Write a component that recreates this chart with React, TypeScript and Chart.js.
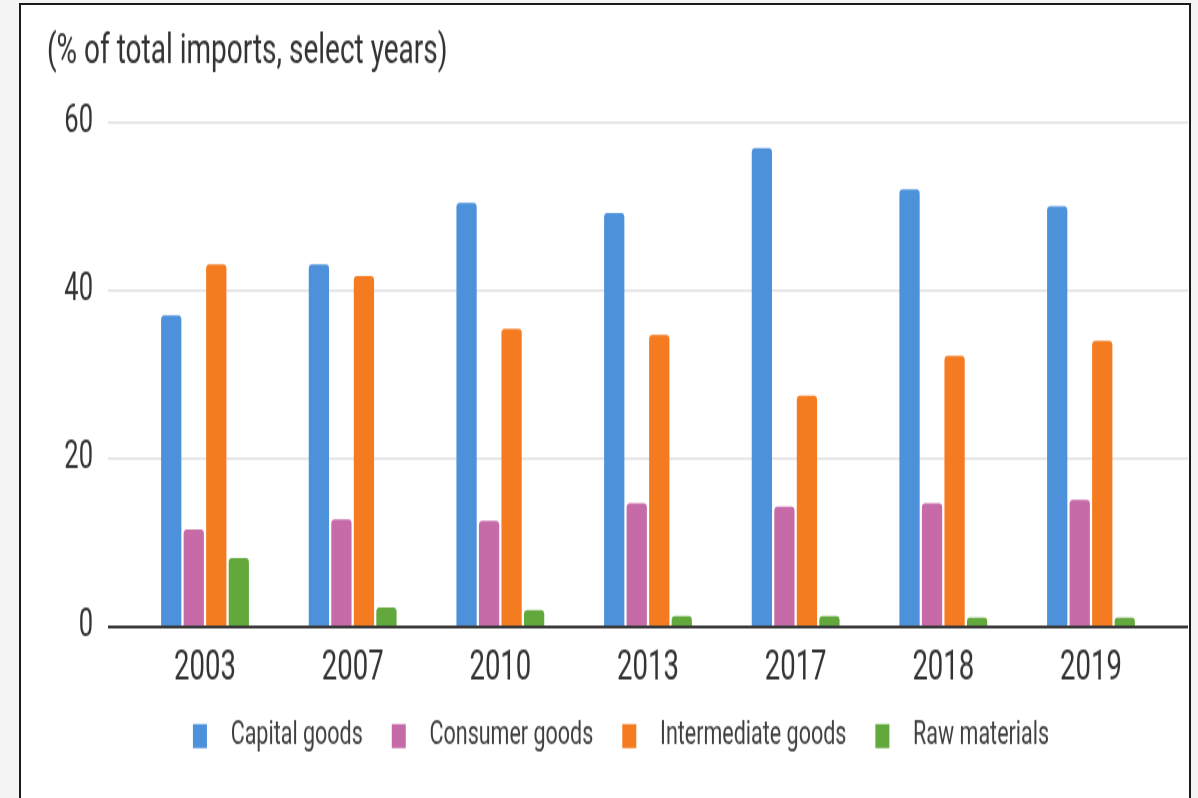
import React, { useEffect, useRef } from "react";
import { Chart, registerables } from "chart.js";

Chart.register(...registerables);

const years = ["2003", "2007", "2010", "2013", "2017", "2018", "2019"];
const seriesNames = ["Capital goods", "Consumer goods", "Intermediate goods", "Raw materials"];
const capitalGoods = [37.0, 43.1, 50.4, 49.2, 56.9, 52.0, 50.0];
const consumerGoods = [11.6, 12.8, 12.6, 14.7, 14.3, 14.7, 15.1];
const intermediateGoods = [43.1, 41.7, 35.4, 34.7, 27.5, 32.2, 34.0];
const rawMaterials = [8.2, 2.3, 2.0, 1.3, 1.3, 1.1, 1.1];
const yTicks = [0, 20, 40, 60];
const titleText = "(% of total imports, select years)";

const colors = ["#4c91da", "#c66aa8", "#f47b20", "#62a83d"];

// canvas is drawn at a reduced internal height and stretched vertically
const W = 1198;
const H_DISPLAY = 798;
const STRETCH = 1.5;
const H = Math.round(H_DISPLAY / STRETCH);
const LEGEND_LIFT = 9.3;
const LEGEND_SHIFT_X = -3;

const legendNudge = {
  id: "legendNudge",
  afterUpdate(chart: any) {
    const lg = chart.legend;
    if (!lg) return;
    lg.top -= LEGEND_LIFT;
    lg.bottom -= LEGEND_LIFT;
    lg.left += LEGEND_SHIFT_X;
    lg.right += LEGEND_SHIFT_X;
    if (lg.legendHitBoxes) {
      lg.legendHitBoxes.forEach((h: any) => {
        h.top -= LEGEND_LIFT;
        h.left += LEGEND_SHIFT_X;
      });
    }
  },
};

export default function App() {
  const ref = useRef<HTMLCanvasElement | null>(null);

  useEffect(() => {
    if (!ref.current) return;
    Chart.defaults.font.family = "Roboto";
    const allSeries = [capitalGoods, consumerGoods, intermediateGoods, rawMaterials];
    const chart = new Chart(ref.current, {
      type: "bar",
      data: {
        datasets: allSeries.map((vals, si) => ({
          label: seriesNames[si],
          data: vals.map((v, i) => ({ x: i, y: v })),
          backgroundColor: colors[si],
          borderWidth: 0,
          borderRadius: 3,
          categoryPercentage: 0.61,
          barPercentage: 0.9,
        })),
      },
      plugins: [legendNudge],
      options: {
        responsive: false,
        animation: false,
        devicePixelRatio: 1,
        layout: { padding: { left: 47, right: 10, top: 0, bottom: 1 } },
        plugins: {
          tooltip: { enabled: false },
          title: {
            display: true,
            text: titleText,
            align: "start",
            color: "#333",
            font: { size: 28, weight: "normal" },
            padding: { top: 18.3, bottom: 29.4 },
          },
          legend: {
            position: "bottom",
            labels: {
              color: "#3f3f3f",
              font: { size: 21.5 },
              boxWidth: 40,
              boxHeight: 42,
              padding: 16,
              generateLabels: (c: any) => {
                const items = Chart.defaults.plugins.legend.labels.generateLabels(c);
                return items.map((it: any) => ({
                  ...it,
                  strokeStyle: "#ffffff",
                  lineWidth: 26,
                  borderRadius: 0,
                }));
              },
            },
          },
        },
        scales: {
          x: {
            type: "linear",
            min: -0.657,
            max: 6.657,
            offset: false,
            grid: { display: false, drawTicks: false },
            border: { display: false },
            afterBuildTicks: (scale: any) => {
              scale.ticks = years.map((_, i) => ({ value: i }));
            },
            afterFit: (scale: any) => {
              scale.height = 45;
            },
            ticks: {
              autoSkip: false,
              maxRotation: 0,
              padding: 12,
              color: "#333",
              font: { size: 27.5 },
              callback: (v: any) => years[v as number] ?? "",
            },
          },
          y: {
            min: 0,
            max: 60,
            afterBuildTicks: (scale: any) => {
              scale.ticks = yTicks.map((v) => ({ value: v }));
            },
            afterFit: (scale: any) => {
              scale.width = 61;
            },
            grid: {
              drawTicks: false,
              lineWidth: (ctx: any) => (ctx.tick && ctx.tick.value === 0 ? 2 : 1.6),
              color: (ctx: any) => (ctx.tick && ctx.tick.value === 0 ? "#3a3a3a" : "#e2e2e2"),
            },
            border: { display: false },
            ticks: {
              padding: 15,
              color: "#333",
              font: { size: 25.5 },
            },
          },
        },
      } as any,
    });
    return () => chart.destroy();
  }, []);

  return (
    <div
      style={{
        position: "fixed",
        left: 0,
        top: 0,
        width: W,
        height: H_DISPLAY,
        background: "#f4f4f4",
        overflow: "hidden",
      }}
    >
      <div
        style={{
          position: "absolute",
          left: 19,
          top: 3,
          width: 1172,
          height: 840,
          background: "#ffffff",
          border: "2px solid #1a1a1a",
          boxSizing: "border-box",
        }}
      />
      <canvas
        ref={ref}
        width={W}
        height={H}
        style={{
          position: "absolute",
          left: 0,
          top: 0,
          width: W + "px",
          height: H_DISPLAY + "px",
        }}
      />
    </div>
  );
}
